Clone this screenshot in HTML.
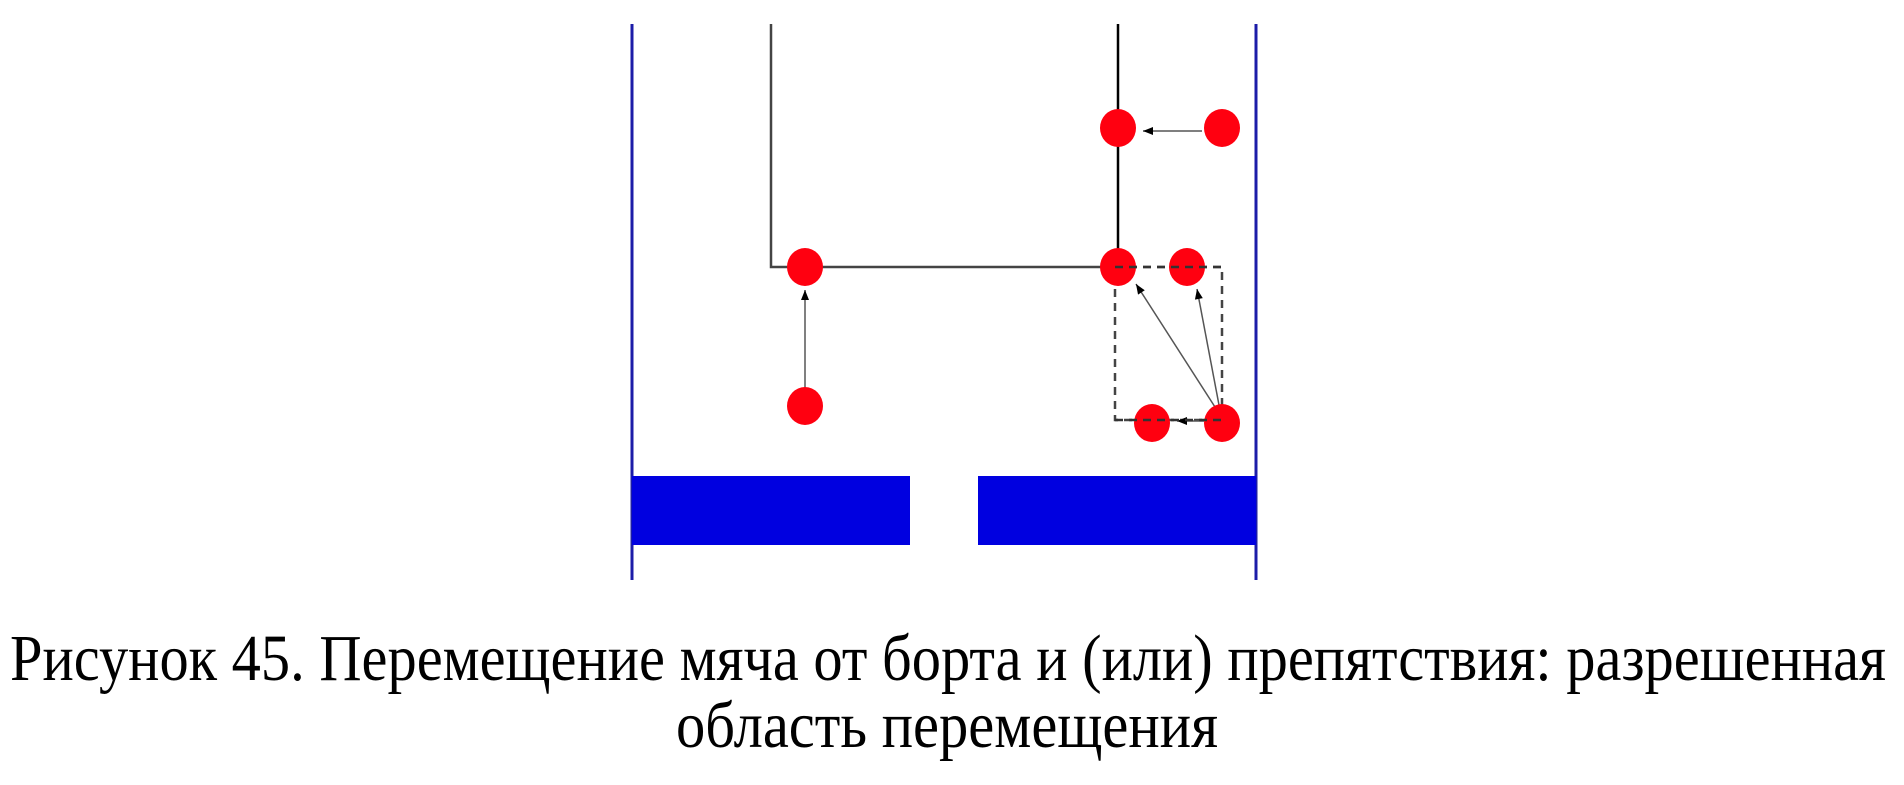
<!DOCTYPE html>
<html><head><meta charset="utf-8"><style>
html,body{margin:0;padding:0;background:#fff;}
svg{display:block;}
</style></head><body>
<svg width="1904" height="785" viewBox="0 0 1904 785" xmlns="http://www.w3.org/2000/svg">
<defs>
<marker id="ah" viewBox="0 0 10 10" refX="10" refY="5" markerWidth="12" markerHeight="10" markerUnits="userSpaceOnUse" orient="auto">
<path d="M0,1 L10,5 L0,9 Z" fill="#000"/>
</marker>
</defs>
<rect width="1904" height="785" fill="#fff"/>
<line x1="632" y1="24" x2="632" y2="580" stroke="#1c1ca8" stroke-width="3"/>
<line x1="1256" y1="24" x2="1256" y2="580" stroke="#1c1ca8" stroke-width="3"/>
<rect x="632" y="476" width="278" height="69" fill="#0000e0"/>
<rect x="978" y="476" width="278" height="69" fill="#0000e0"/>
<polyline points="771,24 771,267 1118,267" fill="none" stroke="#444" stroke-width="2.5"/>
<line x1="1118" y1="24" x2="1118" y2="267" stroke="#000" stroke-width="2.5"/>
<rect x="1115" y="267" width="107" height="153" fill="none" stroke="#444" stroke-width="2.5" stroke-dasharray="8,6"/>
<line x1="805" y1="388" x2="805" y2="290" stroke="#555" stroke-width="1.5" marker-end="url(#ah)"/>
<line x1="1202" y1="131" x2="1143" y2="131" stroke="#555" stroke-width="1.5" marker-end="url(#ah)"/>
<line x1="1215" y1="407" x2="1136" y2="284" stroke="#555" stroke-width="1.5" marker-end="url(#ah)"/>
<line x1="1219" y1="405" x2="1197" y2="289" stroke="#555" stroke-width="1.5" marker-end="url(#ah)"/>
<line x1="1204" y1="421" x2="1177" y2="421" stroke="#555" stroke-width="1.5" marker-end="url(#ah)"/>
<g fill="#ff0010">
<ellipse cx="1118" cy="128" rx="18" ry="19"/>
<ellipse cx="1222" cy="128" rx="18" ry="19"/>
<ellipse cx="805" cy="267" rx="18" ry="19"/>
<ellipse cx="1118" cy="267" rx="18" ry="19"/>
<ellipse cx="1187" cy="267" rx="18" ry="19"/>
<ellipse cx="805" cy="406" rx="18" ry="19"/>
<ellipse cx="1152" cy="423" rx="18" ry="19"/>
<ellipse cx="1222" cy="423" rx="18" ry="19"/>
</g>
<line x1="1115" y1="267" x2="1222" y2="267" stroke="#333" stroke-width="2.5" stroke-dasharray="8,6"/>
<line x1="1115" y1="420" x2="1222" y2="420" stroke="#333" stroke-width="2.5" stroke-dasharray="8,6"/>
<text x="10" y="680" font-family="'Liberation Serif','DejaVu Serif',serif" font-size="66" textLength="1876" lengthAdjust="spacingAndGlyphs" fill="#000">Рисунок 45. Перемещение мяча от борта и (или) препятствия: разрешенная</text>
<text x="676" y="747" font-family="'Liberation Serif','DejaVu Serif',serif" font-size="66" textLength="542" lengthAdjust="spacingAndGlyphs" fill="#000">область перемещения</text>
</svg>
</body></html>
